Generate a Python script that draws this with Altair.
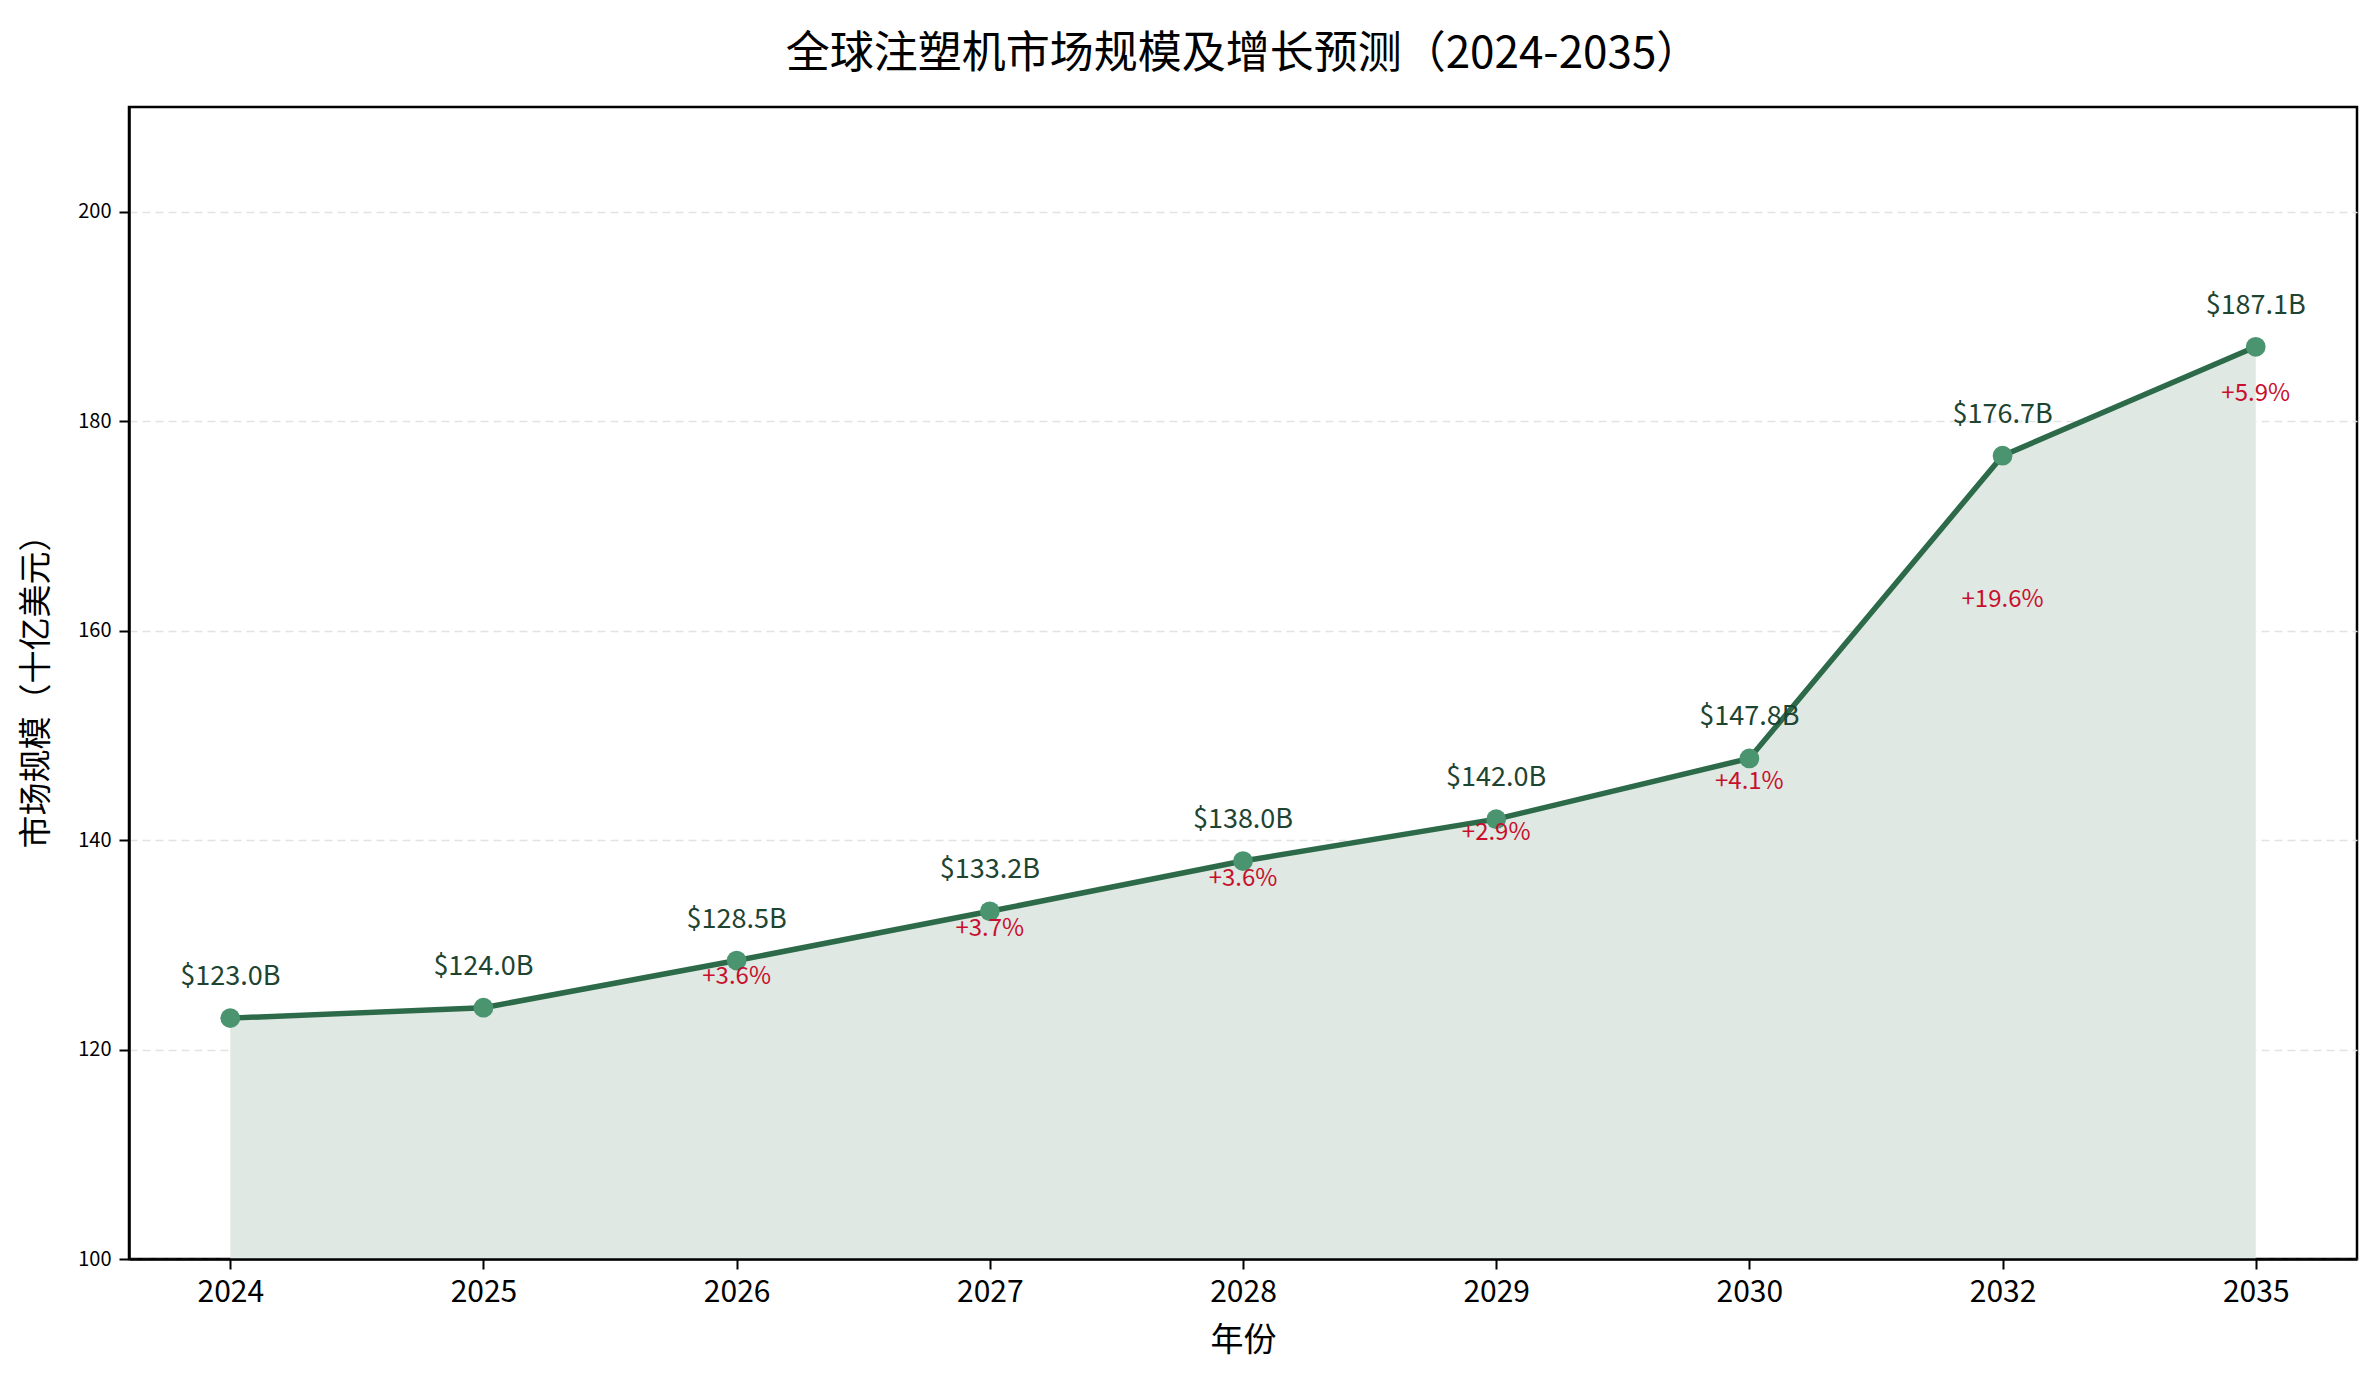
import altair as alt
import pandas as pd

years = ["2024", "2025", "2026", "2027", "2028", "2029", "2030", "2032", "2035"]
market_size = [123.0, 124.0, 128.5, 133.2, 138.0, 142.0, 147.8, 176.7, 187.1]
growth_pct = [None, None, 3.6, 3.7, 3.6, 2.9, 4.1, 19.6, 5.9]

FONT = "Noto Sans CJK SC"
LINE = "#2d6a4a"
POINT = "#4a9470"
TEXT_DARK = "#1e4432"
RED = "#c8102e"

rows = []
for i, (yr, v) in enumerate(zip(years, market_size)):
    g = growth_pct[i]
    mid = (market_size[i - 1] + v) / 2 if i > 0 else None
    rows.append({
        "year": yr,
        "value": v,
        "value_label": f"${v:.1f}B",
        "growth_label": (f"+{g:.1f}%" if g is not None else None),
        "growth_y": (mid if g is not None else None),
    })
df = pd.DataFrame(rows)

W, H = 2228, 1152

x_enc = alt.X(
    "year:O",
    sort=years,
    scale=alt.Scale(type="point", padding=0.4),
    axis=alt.Axis(
        title="年份",
        labelAngle=0,
        labelFontSize=30,
        labelFont=FONT,
        labelColor="black",
        labelPadding=8,
        tickSize=10,
        tickWidth=2,
        tickColor="black",
        domain=True,
        domainColor="black",
        domainWidth=2.5,
        zindex=1,
        grid=False,
        titleFontSize=33,
        titleFont=FONT,
        titleFontWeight="normal",
        titleColor="black",
        titleX=W / 2,
        titleY=81,
        titleBaseline="middle",
        titleAlign="center",
    ),
)

y_scale = alt.Scale(domain=[100, 210], nice=False, zero=False)
y_enc = alt.Y(
    "value:Q",
    scale=y_scale,
    axis=alt.Axis(
        title="市场规模（十亿美元）",
        values=[100, 120, 140, 160, 180, 200],
        labelFontSize=20,
        labelFont=FONT,
        labelColor="black",
        labelPadding=8,
        tickSize=10,
        tickWidth=2,
        tickColor="black",
        domain=True,
        domainColor="black",
        domainWidth=2.5,
        grid=True,
        gridColor="#e3e3e3",
        gridDash=[8, 5],
        gridWidth=1.5,
        titleFontSize=33,
        titleFont=FONT,
        titleFontWeight="normal",
        titleColor="black",
        titleAngle=-90,
        titleX=-93,
        titleY=H / 2,
        titleBaseline="middle",
        titleAlign="center",
    ),
)

base = alt.Chart(df)

area = base.mark_area(color="#dfe8e2", opacity=1).encode(
    x=x_enc, y=y_enc, y2=alt.datum(100)
)

line = base.mark_line(color=LINE, strokeWidth=5.5).encode(x=x_enc, y=y_enc)

points = base.mark_point(
    filled=True, color=POINT, opacity=1, size=390, shape="circle"
).encode(x=x_enc, y=y_enc)

value_text = base.mark_text(
    font=FONT, fontSize=27, color=TEXT_DARK, baseline="alphabetic", dy=-33
).encode(x=x_enc, y=y_enc, text="value_label:N")

growth_text = base.transform_filter("datum.growth_label != null").mark_text(
    font=FONT, fontSize=24, color=RED, baseline="alphabetic"
).encode(
    x=x_enc,
    y=alt.Y("growth_y:Q", scale=y_scale),
    text="growth_label:N",
)

chart = (
    alt.layer(area, line, points, value_text, growth_text)
    .properties(
        width=W,
        height=H,
        background="white",
        title=alt.TitleParams(
            "全球注塑机市场规模及增长预测（2024-2035）",
            font=FONT,
            fontSize=44,
            fontWeight="normal",
            color="black",
            anchor="middle",
            offset=30,
        ),
        autosize=alt.AutoSizeParams(type="none"),
        padding={"left": 121, "top": 99, "right": 10, "bottom": 100},
    )
    .configure_view(stroke="#000000", strokeWidth=2.5, strokeOpacity=1)
)

chart.save("out.html", embed_options={"renderer": "svg", "actions": False})
